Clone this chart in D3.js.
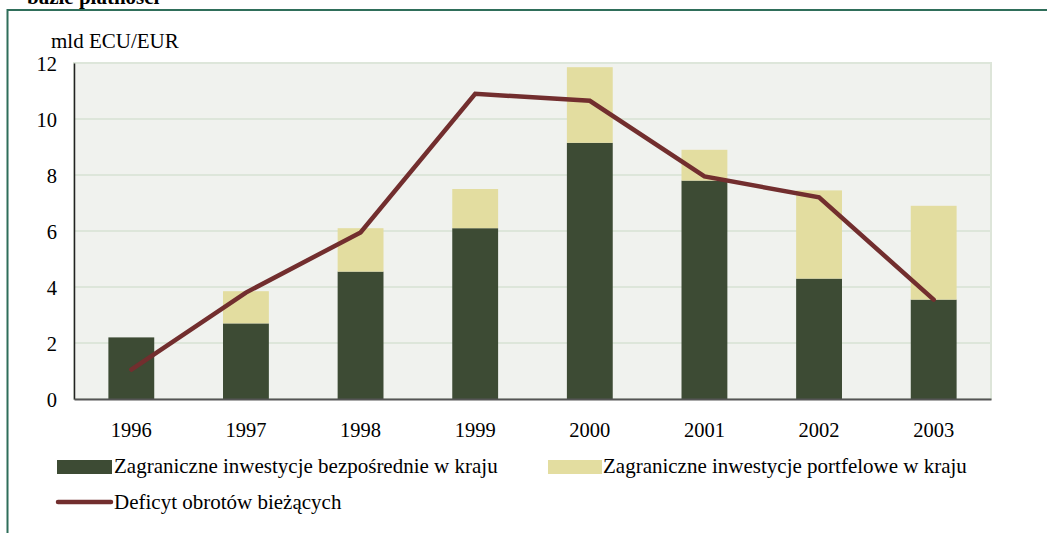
<!DOCTYPE html>
<html>
<head>
<meta charset="utf-8">
<script src="https://cdn.jsdelivr.net/npm/d3@7"></script>
<style>
  body { margin: 0; background: #fff; }
  svg text { font-family: "Liberation Serif", "Times New Roman", serif; fill: #000; }
</style>
</head>
<body>
<svg id="chart" width="1047" height="533"></svg>
<script>
// data (mld ECU/EUR)
var years = ["1996", "1997", "1998", "1999", "2000", "2001", "2002", "2003"];
var fdi = [2.2, 2.7, 4.55, 6.1, 9.15, 7.8, 4.3, 3.55];
var portfolio = [0, 1.15, 1.55, 1.4, 2.7, 1.1, 3.15, 3.35];
var deficit = [1.05, 3.8, 5.95, 10.9, 10.65, 7.95, 7.2, 3.55];
var yTicks = [0, 2, 4, 6, 8, 10, 12];

var svg = d3.select("#chart");

var plotL = 74, plotR = 991, plotT = 63, plotB = 399;

var x = d3.scaleBand().domain(years).range([plotL, plotR]).paddingInner(0.6).paddingOuter(0.3);
var xc = function (d) { return x(d) + x.bandwidth() / 2; };
var y = d3.scaleLinear().domain([0, 12]).range([plotB, plotT]);

// outer frame (page box)
svg.append("path")
    .attr("d", "M7.5,533 V10 H1047")
    .attr("fill", "none")
    .attr("stroke", "#2f6e5a")
    .attr("stroke-width", 2);

// clipped heading from the page above
svg.append("text")
    .attr("x", 27).attr("y", 4)
    .style("font-size", "21px").style("font-weight", "bold")
    .text("bazie płatności");

// plot background
svg.append("rect")
    .attr("x", plotL).attr("y", plotT)
    .attr("width", plotR - plotL).attr("height", plotB - plotT)
    .attr("fill", "#f0f2ee")
    .attr("stroke", "#dde5d9").attr("stroke-width", 2);

// gridlines
svg.append("g").selectAll("line")
    .data(yTicks.filter(function (d) { return d > 0; }))
    .join("line")
    .attr("x1", plotL).attr("x2", plotR)
    .attr("y1", function (d) { return y(d); })
    .attr("y2", function (d) { return y(d); })
    .attr("stroke", "#dde6da").attr("stroke-width", 2);

// stacked bars
var rows = years.map(function (yr, i) {
    return { year: yr, fdi: fdi[i], portfolio: portfolio[i] };
});
var stack = d3.stack().keys(["fdi", "portfolio"])(rows);
var colors = { fdi: "#3d4b34", portfolio: "#e3dda0" };

svg.append("g").selectAll("g")
    .data(stack)
    .join("g")
    .attr("fill", function (s) { return colors[s.key]; })
    .selectAll("rect")
    .data(function (s) { return s; })
    .join("rect")
    .attr("x", function (d) { return x(d.data.year); })
    .attr("width", x.bandwidth())
    .attr("y", function (d) { return y(d[1]); })
    .attr("height", function (d) { return y(d[0]) - y(d[1]); });

// axes
var yAxis = svg.append("g")
    .attr("transform", "translate(" + plotL + ",0)")
    .call(d3.axisLeft(y).tickValues(yTicks).tickSize(0).tickPadding(17))
    .attr("font-family", null).attr("font-size", null);
yAxis.select(".domain").attr("stroke", "#222").attr("stroke-width", 1.5);
yAxis.selectAll("text").style("font-size", "20.5px").attr("dy", "0.35em");

var xAxis = svg.append("g")
    .attr("transform", "translate(0," + plotB + ")")
    .call(d3.axisBottom(x).tickSize(0).tickPadding(23))
    .attr("font-family", null).attr("font-size", null);
xAxis.select(".domain").attr("stroke", "#555").attr("stroke-width", 2);
xAxis.selectAll("text").style("font-size", "20.5px");

// unit label
svg.append("text")
    .attr("x", 51).attr("y", 48)
    .style("font-size", "21px")
    .text("mld ECU/EUR");

// deficit line
var line = d3.line()
    .x(function (d, i) { return xc(years[i]); })
    .y(function (d) { return y(d); });

svg.append("path")
    .datum(deficit)
    .attr("d", line)
    .attr("fill", "none")
    .attr("stroke", "#722e2e")
    .attr("stroke-width", 4.5)
    .attr("stroke-linecap", "round")
    .attr("stroke-linejoin", "miter");

// legend
var lg = svg.append("g").style("font-size", "21px");
lg.append("rect").attr("x", 57).attr("y", 460).attr("width", 55).attr("height", 14).attr("fill", colors.fdi);
lg.append("text").attr("x", 114).attr("y", 473).text("Zagraniczne inwestycje bezpośrednie w kraju");
lg.append("rect").attr("x", 548).attr("y", 460).attr("width", 54).attr("height", 14).attr("fill", colors.portfolio);
lg.append("text").attr("x", 603).attr("y", 473).text("Zagraniczne inwestycje portfelowe w kraju");
lg.append("line").attr("x1", 58).attr("x2", 111).attr("y1", 502).attr("y2", 502)
    .attr("stroke", "#722e2e").attr("stroke-width", 4.5).attr("stroke-linecap", "round");
lg.append("text").attr("x", 114).attr("y", 509).text("Deficyt obrotów bieżących");
</script>
</body>
</html>
